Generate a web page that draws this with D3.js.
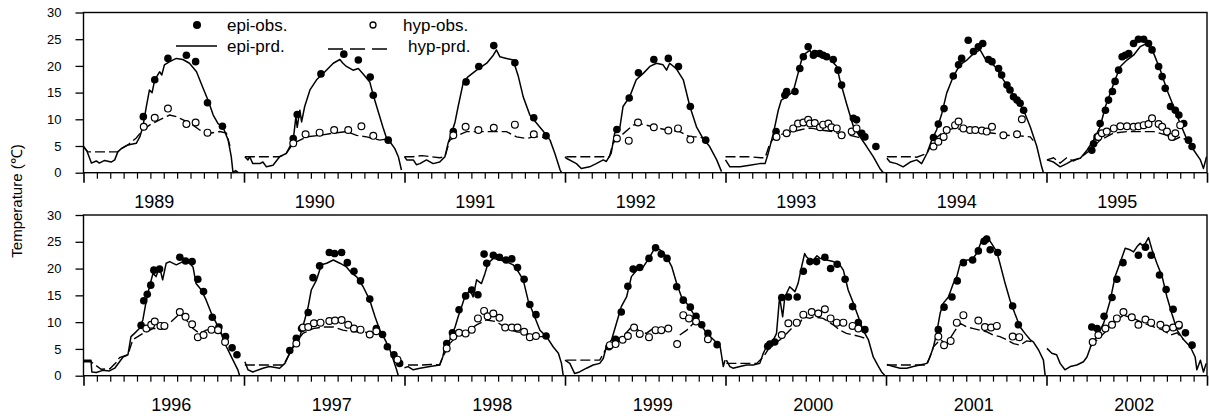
<!DOCTYPE html>
<html>
<head>
<meta charset="utf-8">
<script src="https://cdn.jsdelivr.net/npm/d3@7"></script>
<style>
  body { margin: 0; background: #fff; }
  svg { display: block; }
  text { font-family: Arial, "Liberation Sans", sans-serif; fill: #000; }
</style>
</head>
<body>
<svg id="chart" width="1209" height="416"></svg>
<script>
// Years shown: first row 1989-1995, second row 1996-2002
const years = [1989, 1990, 1991, 1992, 1993, 1994, 1995, 1996, 1997, 1998, 1999, 2000, 2001, 2002];
const yTicks = [0, 5, 10, 15, 20, 25, 30];
const seriesNames = ["epi-obs.", "epi-prd.", "hyp-obs.", "hyp-prd."];

// One list per year, points are [day of year, temperature in °C]
const epiPrd = [
  [[0,4.9],[8,4.0],[18,1.8],[29,2.2],[36,1.8],[48,2.3],[63,2.0],[71,2.4],[78,3.9],[86,4.5],[101,5.2],[120,5.5],[128,6.7],[135,8.6],[143,12.4],[150,15.5],[156,15.0],[162,17.4],[173,18.9],[178,18.3],[184,20.2],[196,20.8],[211,21.4],[226,21.2],[241,20.5],[257,18.9],[272,15.8],[283,13.6],[295,10.8],[306,9.2],[317,8.6],[329,6.1],[336,3.0],[340,0],[346,0.4],[352,0]],
  [[2,3.0],[9,2.4],[13,3.0],[20,1.7],[36,1.7],[43,2.0],[51,1.1],[66,1.4],[81,3.0],[96,3.6],[112,6.1],[118,10.5],[121,8.5],[127,11.7],[131,9.5],[138,12.4],[150,15.5],[165,17.4],[184,18.9],[203,20.5],[218,21.2],[225,20.5],[233,19.9],[248,19.2],[260,19.5],[271,18.5],[286,17.0],[294,14.5],[305,11.5],[316,8.5],[324,6.5],[332,5.8],[343,4.5],[351,3.0],[358,0.5]],
  [[0,3.0],[5,2.4],[20,2.4],[27,1.5],[35,1.7],[50,2.4],[65,1.7],[80,2.0],[92,3.0],[99,5.5],[107,7.4],[115,9.5],[122,12.4],[134,17.0],[145,18.0],[164,19.2],[187,20.5],[202,22.0],[209,23.0],[217,21.7],[232,21.4],[247,21.1],[259,18.0],[270,14.2],[285,10.8],[301,9.2],[316,7.7],[331,6.1],[342,3.6],[354,0.5],[357,0]],
  [[0,3.0],[3,2.7],[26,1.7],[37,0.8],[56,1.1],[71,1.7],[87,2.4],[94,2.1],[105,3.6],[113,7.4],[124,8.0],[132,12.4],[147,14.2],[162,17.4],[178,18.6],[193,19.9],[208,20.5],[223,20.2],[231,19.2],[238,20.5],[253,19.5],[269,17.4],[284,12.4],[299,8.6],[314,6.4],[329,4.9],[345,2.4],[356,0.2]],
  [[0,2.4],[10,1.1],[33,1.1],[55,1.4],[78,1.7],[90,1.7],[97,3.6],[109,7.4],[120,11.7],[127,13.6],[139,14.2],[154,15.2],[165,18.6],[173,21.1],[181,22.3],[192,22.9],[200,21.7],[215,22.0],[237,21.4],[253,19.9],[260,17.4],[275,13.0],[291,8.6],[306,6.7],[321,4.9],[336,3.0],[351,0.8],[359,0]],
  [[2,2.7],[9,2.0],[24,1.7],[39,1.1],[55,2.0],[70,2.4],[81,1.7],[93,3.6],[104,6.1],[115,8.0],[127,11.1],[138,14.9],[153,18.0],[168,20.2],[184,21.1],[199,22.3],[214,23.0],[225,21.4],[237,20.8],[252,19.5],[267,17.4],[282,15.5],[298,13.6],[313,11.7],[328,8.6],[343,4.9],[354,1.1],[358,0]],
  [[1,2.4],[16,2.0],[31,1.1],[46,1.7],[61,2.4],[77,2.7],[92,4.2],[107,6.1],[122,8.6],[134,12.4],[145,14.9],[156,17.4],[168,19.9],[183,21.1],[198,22.0],[213,23.6],[228,24.2],[244,22.3],[259,19.2],[274,15.5],[289,12.4],[304,9.2],[320,6.1],[335,4.2],[350,2.4],[357,0.8],[364,3.0]],
  [[0,2.9],[17,2.9],[19,0.7],[29,0.6],[44,1.0],[59,0.9],[71,1.4],[90,3.5],[101,3.9],[108,7.3],[116,7.9],[127,8.8],[135,10.4],[143,14.1],[150,16.6],[158,19.1],[165,18.5],[173,20.3],[180,17.9],[188,21.0],[196,21.3],[211,20.7],[226,21.3],[241,21.0],[249,20.3],[256,17.2],[268,16.0],[279,14.1],[291,11.6],[302,9.8],[313,7.9],[325,5.4],[340,2.9],[351,1.1],[355,0]],
  [[2,2.6],[9,1.1],[20,0.7],[43,1.4],[58,1.7],[81,1.4],[93,2.3],[104,4.2],[115,6.0],[127,7.3],[138,10.4],[146,12.9],[153,16.0],[165,17.9],[176,20.7],[188,21.0],[203,21.6],[218,21.0],[233,20.3],[245,19.1],[256,18.5],[271,16.6],[286,14.1],[298,11.0],[309,8.5],[321,6.7],[332,4.8],[340,2.9],[347,1.1],[351,0]],
  [[0,1.5],[8,1.7],[20,1.1],[35,1.4],[58,1.7],[80,2.0],[87,3.5],[92,5.4],[103,6.7],[115,9.1],[122,11.0],[130,12.9],[137,14.7],[149,16.0],[156,14.7],[164,17.9],[175,17.2],[183,19.1],[190,21.0],[202,21.9],[217,21.6],[232,21.3],[247,20.7],[259,19.4],[270,17.9],[281,14.1],[293,11.6],[308,8.5],[323,7.3],[338,5.4],[350,4.2],[357,2.3],[361,0]],
  [[0,2.9],[11,2.3],[22,0.4],[33,0.7],[49,1.4],[64,2.0],[79,2.3],[87,3.2],[94,5.4],[106,6.7],[117,9.8],[128,12.9],[140,14.7],[151,18.5],[163,19.7],[178,20.3],[193,22.2],[204,23.8],[216,23.5],[231,22.2],[243,20.3],[254,17.2],[265,14.7],[277,13.5],[292,11.6],[307,9.8],[322,7.9],[338,6.7],[353,5.4],[360,1.7],[364,2.9]],
  [[2,2.9],[10,1.7],[17,1.4],[33,1.7],[48,2.0],[63,2.0],[78,2.3],[86,4.2],[93,5.4],[105,6.0],[116,7.9],[123,14.7],[130,11.0],[135,14.7],[146,16.6],[158,15.7],[165,17.2],[173,20.3],[180,22.8],[184,22.2],[192,21.6],[200,21.6],[208,22.4],[215,21.9],[230,21.6],[245,21.3],[260,20.7],[268,19.7],[279,16.0],[291,13.5],[302,11.0],[313,8.5],[325,6.7],[336,3.5],[348,1.7],[355,0.7],[363,0]],
  [[2,2.1],[17,1.7],[32,1.4],[47,1.4],[62,1.7],[77,2.0],[93,2.3],[100,3.5],[108,5.4],[115,7.9],[123,11.6],[130,13.5],[142,14.7],[153,17.2],[161,18.5],[168,20.7],[184,21.6],[195,21.6],[206,22.8],[218,25.3],[229,26.0],[240,24.7],[252,23.1],[259,21.0],[271,17.2],[282,14.1],[293,11.6],[305,9.1],[316,7.9],[328,6.7],[335,6.3],[347,4.8],[358,2.9],[362,0]],
  [[1,5.1],[12,4.2],[23,3.9],[31,2.3],[42,1.1],[54,1.7],[69,2.0],[84,2.6],[92,3.5],[103,6.0],[115,7.3],[130,9.8],[145,14.1],[156,18.5],[167,21.0],[179,23.8],[190,23.5],[198,23.1],[206,24.1],[213,24.7],[221,24.1],[232,25.8],[240,23.5],[251,21.0],[263,18.5],[274,14.7],[285,11.6],[297,8.5],[312,6.7],[327,5.4],[338,3.5],[342,1.1],[350,2.9],[357,0.7],[363,2.3]]
];

const hypPrd = [
  [[0,4.9],[10,3.9],[40,3.9],[78,3.9],[86,4.5],[101,5.2],[120,6.5],[135,8.0],[150,8.9],[173,9.9],[196,10.8],[211,10.5],[234,9.6],[249,8.9],[264,8.0],[287,7.4],[310,7.7],[325,7.4],[333,5.0]],
  [[2,3.0],[30,3.0],[60,3.0],[81,3.0],[96,3.6],[112,5.5],[142,6.7],[172,7.0],[203,7.4],[233,7.7],[256,7.0],[279,6.7],[309,6.1],[324,6.3]],
  [[0,3.0],[20,3.0],[40,3.2],[60,3.0],[80,2.8],[92,3.0],[103,6.1],[122,7.0],[141,7.7],[171,7.7],[202,7.7],[232,7.7],[255,6.7],[278,6.4],[293,6.7],[308,6.7],[323,6.5]],
  [[3,3.0],[30,3.0],[60,3.0],[90,3.0],[101,3.0],[109,5.5],[124,6.7],[155,8.9],[170,9.2],[200,8.6],[231,8.0],[261,7.7],[284,6.7],[307,6.7],[314,6.4]],
  [[0,3.0],[20,3.0],[50,3.0],[80,2.8],[90,2.8],[101,5.5],[116,7.0],[139,7.4],[169,8.0],[185,8.3],[199,8.3],[215,8.0],[245,7.7],[268,7.0],[283,7.0],[298,6.7],[310,6.5]],
  [[2,3.0],[30,3.0],[60,3.0],[70,2.9],[93,3.6],[108,6.1],[131,7.7],[153,8.3],[184,8.0],[214,7.7],[244,7.4],[275,7.0],[305,6.9],[328,6.7],[335,6.0]],
  [[1,2.4],[16,2.8],[31,1.8],[46,2.8],[61,2.2],[77,2.8],[99,4.2],[122,6.1],[152,7.4],[183,7.7],[213,7.7],[244,7.7],[274,7.0],[289,6.1],[304,6.7],[320,6.1]],
  [[0,2.6],[17,2.6],[40,1.2],[60,1.3],[75,2.5],[82,3.4],[101,3.9],[112,6.7],[135,7.9],[158,8.8],[180,8.8],[196,9.8],[219,11.6],[234,10.4],[249,8.8],[264,7.9],[279,8.5],[294,8.8],[310,8.2],[317,7.5]],
  [[2,2.0],[30,2.0],[60,2.0],[90,2.0],[104,4.2],[119,6.3],[134,7.9],[157,8.8],[180,9.1],[203,9.1],[225,8.5],[248,8.2],[271,8.2],[286,7.9],[301,8.2],[309,8.0]],
  [[8,2.0],[40,2.0],[60,2.1],[80,2.0],[87,3.5],[103,6.0],[118,7.3],[141,8.2],[164,9.5],[187,10.4],[209,10.1],[232,8.8],[255,8.2],[278,7.9],[300,7.3],[316,7.3],[323,7.0]],
  [[3,2.9],[30,2.9],[60,2.9],[79,2.9],[94,5.1],[109,6.3],[132,7.3],[155,9.5],[170,8.2],[185,7.9],[200,8.8],[223,8.8],[238,8.8],[245,null],[261,7.6],[277,8.5],[292,9.8],[299,10.1],[307,9.8]],
  [[2,2.3],[30,2.3],[55,2.3],[71,2.3],[86,3.5],[101,5.4],[124,6.7],[139,7.9],[154,9.1],[169,9.8],[177,11.0],[192,10.7],[200,11.0],[222,10.7],[245,9.5],[260,8.5],[275,7.9],[291,7.6],[306,7.3],[317,7.0]],
  [[2,2.0],[30,2.0],[60,2.0],[93,2.0],[108,5.4],[123,6.7],[138,6.0],[153,7.9],[168,9.8],[184,9.1],[199,8.8],[214,8.5],[229,8.2],[244,7.6],[259,7.3],[275,6.7],[290,6.0],[305,5.7],[320,6.5],[335,6.3]],
  [[99,5.4],[115,6.7],[130,7.9],[145,9.1],[160,10.4],[175,11.3],[198,10.7],[221,9.8],[244,9.1],[266,8.5],[282,7.6],[297,8.0],[312,6.7]]
];

const epiObs = [
  [[136,10.5],[162,17.4],[192,21.4],[234,22.0],[255,20.8],[282,13.1],[316,8.7]],
  [[112,6.4],[121,10.9],[175,18.5],[227,22.2],[260,21.1],[287,17.9],[294,14.5],[328,6.1]],
  [[111,7.7],[140,17.0],[169,19.9],[203,23.8],[251,20.6],[294,10.3],[322,6.9]],
  [[118,8.1],[146,14.0],[167,18.7],[202,21.2],[235,21.4],[258,19.9],[285,12.4],[320,6.1]],
  [[115,7.7],[135,14.5],[139,15.2],[158,15.2],[169,19.5],[177,21.7],[188,23.6],[200,22.0],[203,22.3],[214,22.3],[222,22.0],[230,21.7],[245,21.2],[256,19.2],[264,16.4],[291,10.2],[298,9.9],[310,7.4],[317,6.7],[342,4.9]],
  [[108,6.6],[119,9.1],[132,12.0],[153,18.1],[165,20.2],[172,21.4],[187,24.8],[199,22.7],[210,23.6],[220,24.2],[233,21.2],[241,20.8],[256,19.5],[263,18.3],[275,16.4],[282,15.5],[290,14.2],[298,13.6],[305,13.0],[313,11.7]],
  [[103,4.2],[107,5.4],[115,6.7],[122,9.2],[134,11.7],[141,13.6],[150,15.2],[156,17.1],[164,19.2],[172,21.7],[179,22.0],[187,22.3],[198,24.2],[209,25.0],[221,25.0],[232,24.2],[240,23.0],[255,19.9],[263,18.0],[270,15.8],[282,12.4],[293,11.7],[301,10.8],[312,9.2],[323,6.1],[331,4.9]],
  [[131,9.4],[137,14.0],[145,15.2],[153,16.9],[160,19.7],[173,19.9],[219,22.1],[232,21.4],[247,21.3],[260,18.0],[273,15.7],[293,10.9],[308,9.1],[323,7.3],[338,5.2],[349,3.9]],
  [[104,4.7],[119,7.0],[131,8.8],[146,11.8],[157,18.3],[172,20.5],[194,23.0],[206,22.8],[222,23.0],[235,21.1],[250,19.5],[265,17.7],[286,14.3],[301,8.8],[315,7.7],[326,5.4],[341,3.9],[354,2.3]],
  [[96,6.0],[109,8.0],[124,12.3],[139,14.9],[153,16.0],[167,15.1],[181,22.7],[187,21.0],[202,22.5],[216,22.1],[231,21.6],[244,21.8],[257,20.2],[272,18.0],[285,13.3],[299,11.4],[322,7.4]],
  [[100,5.4],[115,6.8],[128,11.9],[143,16.7],[155,19.9],[170,20.2],[191,21.9],[206,23.9],[219,22.7],[232,21.9],[254,16.6],[269,14.1],[285,12.8],[298,11.1],[311,9.5],[325,7.9],[346,5.8]],
  [[96,5.5],[101,5.9],[112,6.3],[128,14.6],[143,14.7],[163,14.7],[177,19.5],[192,21.3],[207,21.3],[226,22.1],[239,20.0],[254,20.8],[272,18.0],[289,12.9],[302,9.9],[317,8.6]],
  [[119,8.6],[132,12.8],[150,14.7],[162,17.7],[176,21.1],[197,21.6],[210,23.3],[223,25.1],[229,25.5],[237,23.5],[254,23.0],[288,13.0],[301,9.5]],
  [[103,9.1],[115,8.8],[131,11.1],[149,14.6],[160,18.0],[174,21.1],[209,22.5],[225,24.0],[238,22.5],[257,18.8],[272,16.1],[288,12.4],[301,9.3],[316,8.0],[331,5.7]]
];

const hypObs = [
  [[137,8.6],[162,10.3],[192,12.0],[234,9.1],[255,9.4],[282,7.5]],
  [[112,5.5],[140,7.2],[172,7.5],[205,8.0],[237,8.0],[267,8.7],[294,6.9]],
  [[111,7.0],[139,8.6],[168,8.0],[203,8.4],[251,9.0],[294,7.2]],
  [[118,6.4],[145,6.0],[166,9.4],[202,8.5],[235,7.9],[257,8.3],[285,6.2]],
  [[116,6.7],[139,7.4],[154,8.3],[165,9.2],[177,9.4],[188,9.9],[192,9.2],[203,9.3],[215,8.5],[222,9.0],[234,9.2],[241,8.5],[253,8.3],[264,7.0],[287,7.7],[298,8.3]],
  [[108,4.9],[119,5.8],[131,6.7],[138,8.0],[157,8.9],[165,9.6],[176,8.3],[191,8.0],[203,8.0],[218,7.9],[229,7.7],[241,8.6],[267,7.0],[298,7.2],[309,10.0]],
  [[118,6.7],[126,7.4],[137,7.7],[153,8.3],[168,8.7],[183,8.7],[198,8.6],[209,8.7],[221,8.9],[232,9.1],[240,10.2],[255,9.1],[263,8.6],[274,7.7],[285,6.7],[293,7.4],[304,8.9]],
  [[143,8.8],[154,9.5],[162,10.1],[175,9.3],[184,9.3],[219,11.9],[232,11.0],[247,9.6],[260,7.2],[273,7.6],[291,8.6],[306,8.5],[322,6.3]],
  [[119,6.0],[134,9.0],[146,9.1],[159,9.8],[174,9.9],[194,10.2],[207,10.3],[222,10.4],[237,9.5],[250,8.8],[265,8.6],[286,7.7],[301,8.3],[349,3.0]],
  [[96,5.1],[111,7.3],[124,8.0],[139,7.9],[153,8.6],[167,10.7],[181,12.1],[189,11.1],[202,11.6],[216,10.8],[229,9.0],[244,9.0],[257,9.0],[272,8.2],[285,7.2],[299,7.4]],
  [[102,5.7],[115,5.9],[131,6.7],[143,7.4],[157,9.0],[170,7.8],[191,7.2],[206,8.5],[219,8.5],[235,8.8],[255,5.9],[269,11.3],[282,10.7],[298,10.1],[325,6.8]],
  [[128,7.6],[143,9.8],[162,9.9],[177,11.4],[196,11.9],[211,11.6],[226,12.4],[239,10.7],[253,9.9],[268,9.9],[289,9.3],[302,8.8]],
  [[119,7.3],[132,5.7],[147,6.5],[161,9.9],[176,11.3],[210,10.3],[225,9.1],[239,9.0],[252,9.3],[288,7.3],[303,7.2]],
  [[105,6.3],[118,7.6],[134,8.8],[149,9.5],[160,10.7],[175,11.9],[194,10.9],[209,9.5],[225,10.5],[238,9.9],[259,9.5],[272,8.8],[288,9.0],[301,9.5]]
];

const svg = d3.select("#chart");
const plotLeft = 83.5, plotRight = 1207;

// Two stacked panels of seven years each
const panels = [
  { first: 0, top: 12.5, bottom: 172.7, labelShift: -9.5 },
  { first: 7, top: 215, bottom: 375.7, labelShift: 7.5 }
];

panels.forEach(p => {
  const startYear = years[p.first];
  const x = d3.scaleLinear().domain([startYear, startYear + 7]).range([plotLeft, plotRight]);
  const y = d3.scaleLinear().domain([0, 30]).range([p.bottom, p.top]);
  const g = svg.append("g");
  const toX = (yr, d) => x(yr + d / 365);

  // y axis
  const yAxis = g.append("g")
    .attr("transform", `translate(${plotLeft},0)`)
    .call(d3.axisLeft(y).tickValues(yTicks).tickSize(8).tickPadding(14).tickFormat(d3.format("d")));
  yAxis.select(".domain").remove();
  yAxis.selectAll("line").attr("stroke", "#000").attr("stroke-width", 1.3);
  yAxis.selectAll("text").style("font-size", "13px").style("font-family", "Arial, 'Liberation Sans', sans-serif");

  // x axis: monthly minor ticks, yearly major ticks
  const panelYears = years.slice(p.first, p.first + 7);
  const monthTicks = [];
  panelYears.forEach(yr => { for (let m = 1; m < 12; m++) monthTicks.push(yr + m / 12); });
  const yearTicks = panelYears.concat([startYear + 7]);

  const xMinor = g.append("g").attr("transform", `translate(0,${p.bottom})`)
    .call(d3.axisBottom(x).tickValues(monthTicks).tickSize(6).tickFormat(""));
  xMinor.select(".domain").remove();
  xMinor.selectAll("line").attr("stroke", "#000").attr("stroke-width", 1.2);

  const xMajor = g.append("g").attr("transform", `translate(0,${p.bottom})`)
    .call(d3.axisBottom(x).tickValues(yearTicks).tickSize(10).tickFormat(""));
  xMajor.select(".domain").remove();
  xMajor.selectAll("line").attr("stroke", "#000").attr("stroke-width", 1.6);

  // year labels
  g.selectAll("text.year").data(panelYears).join("text")
    .attr("class", "year")
    .attr("x", d => x(d + 0.5) + p.labelShift)
    .attr("y", p.bottom + 35)
    .attr("text-anchor", "middle")
    .style("font-size", "18px")
    .text(d => d);

  // frame
  g.append("rect")
    .attr("x", plotLeft).attr("y", p.top)
    .attr("width", plotRight - plotLeft).attr("height", p.bottom - p.top)
    .attr("fill", "none").attr("stroke", "#000").attr("stroke-width", 1.4);

  const clipId = "clip" + p.first;
  g.append("clipPath").attr("id", clipId).append("rect")
    .attr("x", plotLeft).attr("y", p.top)
    .attr("width", plotRight - plotLeft).attr("height", p.bottom - p.top + 1);
  const plot = g.append("g").attr("clip-path", `url(#${clipId})`);

  panelYears.forEach((yr, i) => {
    const k = p.first + i;
    const line = d3.line()
      .defined(d => d[1] != null)
      .x(d => toX(yr, d[0]))
      .y(d => y(d[1]));

    plot.append("path").datum(hypPrd[k])
      .attr("d", line).attr("fill", "none")
      .attr("stroke", "#000").attr("stroke-width", 1.4)
      .attr("stroke-dasharray", "10,4");

    plot.append("path").datum(epiPrd[k])
      .attr("d", line).attr("fill", "none")
      .attr("stroke", "#000").attr("stroke-width", 1.5)
      .attr("stroke-linejoin", "round");

    plot.selectAll(null).data(epiObs[k]).join("circle")
      .attr("cx", d => toX(yr, d[0])).attr("cy", d => y(d[1]))
      .attr("r", 3.8).attr("fill", "#000");

    plot.selectAll(null).data(hypObs[k]).join("circle")
      .attr("cx", d => toX(yr, d[0])).attr("cy", d => y(d[1]))
      .attr("r", 3.4).attr("fill", "#fff")
      .attr("stroke", "#000").attr("stroke-width", 1.2);
  });
});

// y axis title
svg.append("text")
  .attr("transform", "translate(22,201) rotate(-90)")
  .attr("text-anchor", "middle")
  .style("font-size", "15px")
  .text("Temperature (\u2103)");

// legend
const legend = svg.append("g");
legend.append("circle").attr("cx", 197).attr("cy", 25).attr("r", 4).attr("fill", "#000");
legend.append("text").attr("x", 227).attr("y", 31).style("font-size", "17px").text(seriesNames[0]);
legend.append("line").attr("x1", 176).attr("x2", 217).attr("y1", 46).attr("y2", 46)
  .attr("stroke", "#000").attr("stroke-width", 1.4);
legend.append("text").attr("x", 227).attr("y", 51.5).style("font-size", "17px").text(seriesNames[1]);
legend.append("circle").attr("cx", 373).attr("cy", 25).attr("r", 3).attr("fill", "#fff")
  .attr("stroke", "#000").attr("stroke-width", 1.3);
legend.append("text").attr("x", 403).attr("y", 31).style("font-size", "17px").text(seriesNames[2]);
legend.append("line").attr("x1", 328).attr("x2", 387).attr("y1", 49).attr("y2", 49)
  .attr("stroke", "#000").attr("stroke-width", 1.4).attr("stroke-dasharray", "15,7");
legend.append("text").attr("x", 408).attr("y", 51.5).style("font-size", "17px").text(seriesNames[3]);
</script>
</body>
</html>
